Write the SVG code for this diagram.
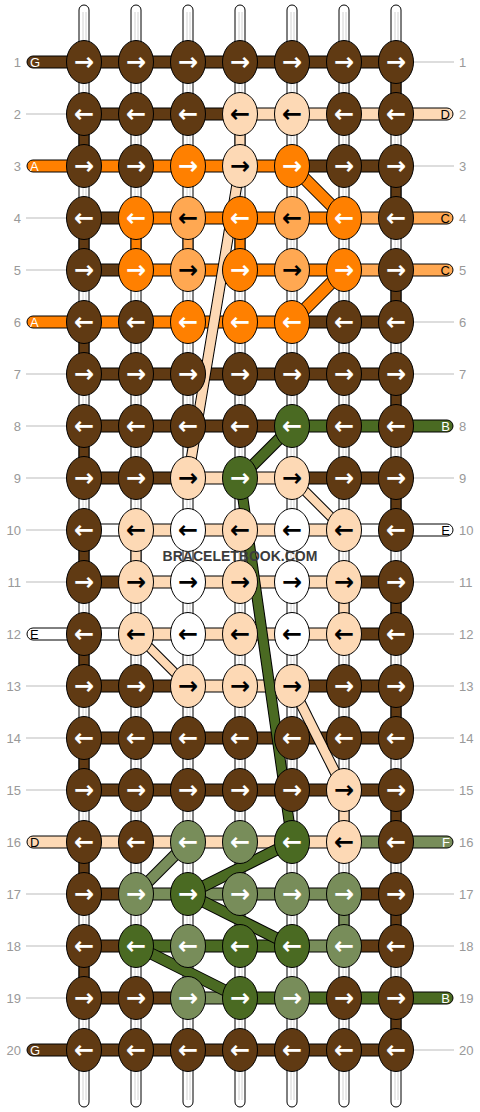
<svg xmlns="http://www.w3.org/2000/svg" width="480" height="1112" viewBox="0 0 480 1112">
<style>
.wp{fill:#fff;stroke:#000;stroke-width:1}
.wl{stroke:#d2d2d2;stroke-width:1}
.G{fill:#603a13}.A{fill:#ff8000}.C{fill:#ffa852}.D{fill:#fdd9b5}.E{fill:#fff}.F{fill:#788d5a}.B{fill:#4a6a22}
ellipse,.bar,.stub,.lab{stroke:#000;stroke-width:1}
.gl{stroke:#bbb;stroke-width:1}
.num{font-family:"Liberation Sans",Arial,sans-serif;font-size:13px;fill:#999}
.ln{text-anchor:end}
.ar{font-family:"DejaVu Sans",sans-serif;font-size:24px;font-weight:bold;text-anchor:middle}
.tw{fill:#fff}.tb{fill:#000}
.lt{font-family:"Liberation Sans",Arial,sans-serif;font-size:13px}
.lo{stroke:#000;stroke-linecap:butt}
.sD{stroke:#fdd9b5}.sA{stroke:#ff8000}.sB{stroke:#4a6a22}.sF{stroke:#788d5a}
.wm{font-family:"Liberation Sans",Arial,sans-serif;font-size:14px;font-weight:bold;fill:#3b3b3b;text-anchor:middle}
</style>
<g id="warps">
<rect class="wp" x="79" y="5" width="10" height="1102" rx="5"/><line class="wl" x1="83" y1="12" x2="83" y2="1100"/><line class="wl" x1="86" y1="12" x2="86" y2="1100"/>
<rect class="wp" x="131" y="5" width="10" height="1102" rx="5"/><line class="wl" x1="135" y1="12" x2="135" y2="1100"/><line class="wl" x1="138" y1="12" x2="138" y2="1100"/>
<rect class="wp" x="183" y="5" width="10" height="1102" rx="5"/><line class="wl" x1="187" y1="12" x2="187" y2="1100"/><line class="wl" x1="190" y1="12" x2="190" y2="1100"/>
<rect class="wp" x="235" y="5" width="10" height="1102" rx="5"/><line class="wl" x1="239" y1="12" x2="239" y2="1100"/><line class="wl" x1="242" y1="12" x2="242" y2="1100"/>
<rect class="wp" x="287" y="5" width="10" height="1102" rx="5"/><line class="wl" x1="291" y1="12" x2="291" y2="1100"/><line class="wl" x1="294" y1="12" x2="294" y2="1100"/>
<rect class="wp" x="339" y="5" width="10" height="1102" rx="5"/><line class="wl" x1="343" y1="12" x2="343" y2="1100"/><line class="wl" x1="346" y1="12" x2="346" y2="1100"/>
<rect class="wp" x="391" y="5" width="10" height="1102" rx="5"/><line class="wl" x1="395" y1="12" x2="395" y2="1100"/><line class="wl" x1="398" y1="12" x2="398" y2="1100"/>
</g>
<g id="numbers">
<text class="num ln" x="21" y="66.5">1</text><text class="num" x="459" y="66.5">1</text>
<text class="num ln" x="21" y="118.5">2</text><text class="num" x="459" y="118.5">2</text>
<text class="num ln" x="21" y="170.5">3</text><text class="num" x="459" y="170.5">3</text>
<text class="num ln" x="21" y="222.5">4</text><text class="num" x="459" y="222.5">4</text>
<text class="num ln" x="21" y="274.5">5</text><text class="num" x="459" y="274.5">5</text>
<text class="num ln" x="21" y="326.5">6</text><text class="num" x="459" y="326.5">6</text>
<text class="num ln" x="21" y="378.5">7</text><text class="num" x="459" y="378.5">7</text>
<text class="num ln" x="21" y="430.5">8</text><text class="num" x="459" y="430.5">8</text>
<text class="num ln" x="21" y="482.5">9</text><text class="num" x="459" y="482.5">9</text>
<text class="num ln" x="21" y="534.5">10</text><text class="num" x="459" y="534.5">10</text>
<text class="num ln" x="21" y="586.5">11</text><text class="num" x="459" y="586.5">11</text>
<text class="num ln" x="21" y="638.5">12</text><text class="num" x="459" y="638.5">12</text>
<text class="num ln" x="21" y="690.5">13</text><text class="num" x="459" y="690.5">13</text>
<text class="num ln" x="21" y="742.5">14</text><text class="num" x="459" y="742.5">14</text>
<text class="num ln" x="21" y="794.5">15</text><text class="num" x="459" y="794.5">15</text>
<text class="num ln" x="21" y="846.5">16</text><text class="num" x="459" y="846.5">16</text>
<text class="num ln" x="21" y="898.5">17</text><text class="num" x="459" y="898.5">17</text>
<text class="num ln" x="21" y="950.5">18</text><text class="num" x="459" y="950.5">18</text>
<text class="num ln" x="21" y="1002.5">19</text><text class="num" x="459" y="1002.5">19</text>
<text class="num ln" x="21" y="1054.5">20</text><text class="num" x="459" y="1054.5">20</text>
</g>
<g id="connectors">
<g id="edges">
<rect class="lab G" x="27" y="56" width="50" height="12" rx="6"/><line class="gl" x1="413" y1="62" x2="454" y2="62"/>
<line class="gl" x1="26" y1="114" x2="67" y2="114"/><rect class="lab D" x="403" y="108" width="50" height="12" rx="6"/>
<rect class="lab A" x="27" y="160" width="50" height="12" rx="6"/><line class="gl" x1="413" y1="166" x2="454" y2="166"/>
<line class="gl" x1="26" y1="218" x2="67" y2="218"/><rect class="lab C" x="403" y="212" width="50" height="12" rx="6"/>
<line class="gl" x1="26" y1="270" x2="67" y2="270"/><rect class="lab C" x="403" y="264" width="50" height="12" rx="6"/>
<rect class="lab A" x="27" y="316" width="50" height="12" rx="6"/><line class="gl" x1="413" y1="322" x2="454" y2="322"/>
<line class="gl" x1="26" y1="374" x2="67" y2="374"/><line class="gl" x1="413" y1="374" x2="454" y2="374"/>
<line class="gl" x1="26" y1="426" x2="67" y2="426"/><rect class="lab B" x="403" y="420" width="50" height="12" rx="6"/>
<line class="gl" x1="26" y1="478" x2="67" y2="478"/><line class="gl" x1="413" y1="478" x2="454" y2="478"/>
<line class="gl" x1="26" y1="530" x2="67" y2="530"/><rect class="lab E" x="403" y="524" width="50" height="12" rx="6"/>
<line class="gl" x1="26" y1="582" x2="67" y2="582"/><line class="gl" x1="413" y1="582" x2="454" y2="582"/>
<rect class="lab E" x="27" y="628" width="50" height="12" rx="6"/><line class="gl" x1="413" y1="634" x2="454" y2="634"/>
<line class="gl" x1="26" y1="686" x2="67" y2="686"/><line class="gl" x1="413" y1="686" x2="454" y2="686"/>
<line class="gl" x1="26" y1="738" x2="67" y2="738"/><line class="gl" x1="413" y1="738" x2="454" y2="738"/>
<line class="gl" x1="26" y1="790" x2="67" y2="790"/><line class="gl" x1="413" y1="790" x2="454" y2="790"/>
<rect class="lab D" x="27" y="836" width="50" height="12" rx="6"/><rect class="lab F" x="403" y="836" width="50" height="12" rx="6"/>
<line class="gl" x1="26" y1="894" x2="67" y2="894"/><line class="gl" x1="413" y1="894" x2="454" y2="894"/>
<line class="gl" x1="26" y1="946" x2="67" y2="946"/><line class="gl" x1="413" y1="946" x2="454" y2="946"/>
<line class="gl" x1="26" y1="998" x2="67" y2="998"/><rect class="lab B" x="403" y="992" width="50" height="12" rx="6"/>
<rect class="lab G" x="27" y="1044" width="50" height="12" rx="6"/><line class="gl" x1="413" y1="1050" x2="454" y2="1050"/>
</g>
<g id="stubs">
<rect class="stub G" x="391" y="79" width="10" height="18"/>
<rect class="stub G" x="79" y="131" width="10" height="18"/><rect class="stub D" x="235" y="131" width="10" height="18"/>
<rect class="stub G" x="391" y="183" width="10" height="18"/>
<rect class="stub G" x="79" y="235" width="10" height="18"/><rect class="stub A" x="131" y="235" width="10" height="18"/><rect class="stub C" x="183" y="235" width="10" height="18"/><rect class="stub A" x="235" y="235" width="10" height="18"/>
<rect class="stub G" x="391" y="287" width="10" height="18"/>
<rect class="stub G" x="79" y="339" width="10" height="18"/>
<rect class="stub G" x="391" y="391" width="10" height="18"/>
<rect class="stub G" x="79" y="443" width="10" height="18"/>
<rect class="stub G" x="391" y="495" width="10" height="18"/>
<rect class="stub G" x="79" y="547" width="10" height="18"/><rect class="stub D" x="131" y="547" width="10" height="18"/>
<rect class="stub G" x="391" y="599" width="10" height="18"/><rect class="stub D" x="339" y="599" width="10" height="18"/>
<rect class="stub G" x="79" y="651" width="10" height="18"/>
<rect class="stub G" x="391" y="703" width="10" height="18"/>
<rect class="stub G" x="79" y="755" width="10" height="18"/>
<rect class="stub G" x="391" y="807" width="10" height="18"/><rect class="stub D" x="339" y="807" width="10" height="18"/>
<rect class="stub G" x="79" y="859" width="10" height="18"/>
<rect class="stub G" x="391" y="911" width="10" height="18"/><rect class="stub F" x="339" y="911" width="10" height="18"/>
<rect class="stub G" x="79" y="963" width="10" height="18"/>
<rect class="stub G" x="391" y="1015" width="10" height="18"/>
</g>
<g id="bars">
<rect class="bar G" x="96" y="56" width="28" height="12"/><rect class="bar G" x="148" y="56" width="28" height="12"/><rect class="bar G" x="200" y="56" width="28" height="12"/><rect class="bar G" x="252" y="56" width="28" height="12"/><rect class="bar G" x="304" y="56" width="28" height="12"/><rect class="bar G" x="356" y="56" width="28" height="12"/>
<rect class="bar G" x="96" y="108" width="28" height="12"/><rect class="bar G" x="148" y="108" width="28" height="12"/><rect class="bar G" x="200" y="108" width="28" height="12"/><rect class="bar D" x="252" y="108" width="28" height="12"/><rect class="bar D" x="304" y="108" width="28" height="12"/><rect class="bar D" x="356" y="108" width="28" height="12"/>
<rect class="bar A" x="96" y="160" width="28" height="12"/><rect class="bar A" x="148" y="160" width="28" height="12"/><rect class="bar A" x="200" y="160" width="28" height="12"/><rect class="bar A" x="252" y="160" width="28" height="12"/><rect class="bar G" x="304" y="160" width="28" height="12"/><rect class="bar G" x="356" y="160" width="28" height="12"/>
<rect class="bar G" x="96" y="212" width="28" height="12"/><rect class="bar A" x="148" y="212" width="28" height="12"/><rect class="bar A" x="200" y="212" width="28" height="12"/><rect class="bar A" x="252" y="212" width="28" height="12"/><rect class="bar A" x="304" y="212" width="28" height="12"/><rect class="bar C" x="356" y="212" width="28" height="12"/>
<rect class="bar G" x="96" y="264" width="28" height="12"/><rect class="bar A" x="148" y="264" width="28" height="12"/><rect class="bar A" x="200" y="264" width="28" height="12"/><rect class="bar A" x="252" y="264" width="28" height="12"/><rect class="bar A" x="304" y="264" width="28" height="12"/><rect class="bar C" x="356" y="264" width="28" height="12"/>
<rect class="bar A" x="96" y="316" width="28" height="12"/><rect class="bar A" x="148" y="316" width="28" height="12"/><rect class="bar A" x="200" y="316" width="28" height="12"/><rect class="bar A" x="252" y="316" width="28" height="12"/><rect class="bar G" x="304" y="316" width="28" height="12"/><rect class="bar G" x="356" y="316" width="28" height="12"/>
<rect class="bar G" x="96" y="368" width="28" height="12"/><rect class="bar G" x="148" y="368" width="28" height="12"/><rect class="bar G" x="200" y="368" width="28" height="12"/><rect class="bar G" x="252" y="368" width="28" height="12"/><rect class="bar G" x="304" y="368" width="28" height="12"/><rect class="bar G" x="356" y="368" width="28" height="12"/>
<rect class="bar G" x="96" y="420" width="28" height="12"/><rect class="bar G" x="148" y="420" width="28" height="12"/><rect class="bar G" x="200" y="420" width="28" height="12"/><rect class="bar G" x="252" y="420" width="28" height="12"/><rect class="bar B" x="304" y="420" width="28" height="12"/><rect class="bar B" x="356" y="420" width="28" height="12"/>
<rect class="bar G" x="96" y="472" width="28" height="12"/><rect class="bar G" x="148" y="472" width="28" height="12"/><rect class="bar D" x="200" y="472" width="28" height="12"/><rect class="bar D" x="252" y="472" width="28" height="12"/><rect class="bar G" x="304" y="472" width="28" height="12"/><rect class="bar G" x="356" y="472" width="28" height="12"/>
<rect class="bar E" x="96" y="524" width="28" height="12"/><rect class="bar D" x="148" y="524" width="28" height="12"/><rect class="bar D" x="200" y="524" width="28" height="12"/><rect class="bar D" x="252" y="524" width="28" height="12"/><rect class="bar D" x="304" y="524" width="28" height="12"/><rect class="bar E" x="356" y="524" width="28" height="12"/>
<rect class="bar G" x="96" y="576" width="28" height="12"/><rect class="bar D" x="148" y="576" width="28" height="12"/><rect class="bar D" x="200" y="576" width="28" height="12"/><rect class="bar D" x="252" y="576" width="28" height="12"/><rect class="bar D" x="304" y="576" width="28" height="12"/><rect class="bar G" x="356" y="576" width="28" height="12"/>
<rect class="bar E" x="96" y="628" width="28" height="12"/><rect class="bar D" x="148" y="628" width="28" height="12"/><rect class="bar D" x="200" y="628" width="28" height="12"/><rect class="bar D" x="252" y="628" width="28" height="12"/><rect class="bar D" x="304" y="628" width="28" height="12"/><rect class="bar G" x="356" y="628" width="28" height="12"/>
<rect class="bar G" x="96" y="680" width="28" height="12"/><rect class="bar G" x="148" y="680" width="28" height="12"/><rect class="bar D" x="200" y="680" width="28" height="12"/><rect class="bar D" x="252" y="680" width="28" height="12"/><rect class="bar G" x="304" y="680" width="28" height="12"/><rect class="bar G" x="356" y="680" width="28" height="12"/>
<rect class="bar G" x="96" y="732" width="28" height="12"/><rect class="bar G" x="148" y="732" width="28" height="12"/><rect class="bar G" x="200" y="732" width="28" height="12"/><rect class="bar G" x="252" y="732" width="28" height="12"/><rect class="bar G" x="304" y="732" width="28" height="12"/><rect class="bar G" x="356" y="732" width="28" height="12"/>
<rect class="bar G" x="96" y="784" width="28" height="12"/><rect class="bar G" x="148" y="784" width="28" height="12"/><rect class="bar G" x="200" y="784" width="28" height="12"/><rect class="bar G" x="252" y="784" width="28" height="12"/><rect class="bar G" x="304" y="784" width="28" height="12"/><rect class="bar G" x="356" y="784" width="28" height="12"/>
<rect class="bar D" x="96" y="836" width="28" height="12"/><rect class="bar D" x="148" y="836" width="28" height="12"/><rect class="bar D" x="200" y="836" width="28" height="12"/><rect class="bar D" x="252" y="836" width="28" height="12"/><rect class="bar D" x="304" y="836" width="28" height="12"/><rect class="bar F" x="356" y="836" width="28" height="12"/>
<rect class="bar G" x="96" y="888" width="28" height="12"/><rect class="bar F" x="148" y="888" width="28" height="12"/><rect class="bar F" x="200" y="888" width="28" height="12"/><rect class="bar F" x="252" y="888" width="28" height="12"/><rect class="bar F" x="304" y="888" width="28" height="12"/><rect class="bar G" x="356" y="888" width="28" height="12"/>
<rect class="bar G" x="96" y="940" width="28" height="12"/><rect class="bar B" x="148" y="940" width="28" height="12"/><rect class="bar B" x="200" y="940" width="28" height="12"/><rect class="bar B" x="252" y="940" width="28" height="12"/><rect class="bar F" x="304" y="940" width="28" height="12"/><rect class="bar G" x="356" y="940" width="28" height="12"/>
<rect class="bar G" x="96" y="992" width="28" height="12"/><rect class="bar G" x="148" y="992" width="28" height="12"/><rect class="bar F" x="200" y="992" width="28" height="12"/><rect class="bar B" x="252" y="992" width="28" height="12"/><rect class="bar B" x="304" y="992" width="28" height="12"/><rect class="bar B" x="356" y="992" width="28" height="12"/>
<rect class="bar G" x="96" y="1044" width="28" height="12"/><rect class="bar G" x="148" y="1044" width="28" height="12"/><rect class="bar G" x="200" y="1044" width="28" height="12"/><rect class="bar G" x="252" y="1044" width="28" height="12"/><rect class="bar G" x="304" y="1044" width="28" height="12"/><rect class="bar G" x="356" y="1044" width="28" height="12"/>
</g>
<g id="diagonals">
<line class="lo" x1="240" y1="166" x2="188" y2="478" stroke-width="11"/><line class="sD" x1="240" y1="166" x2="188" y2="478" stroke-width="9"/>
<line class="lo" x1="292" y1="166" x2="344" y2="218" stroke-width="13"/><line class="sA" x1="292" y1="166" x2="344" y2="218" stroke-width="11"/>
<line class="lo" x1="344" y1="270" x2="292" y2="322" stroke-width="13"/><line class="sA" x1="344" y1="270" x2="292" y2="322" stroke-width="11"/>
<line class="lo" x1="292" y1="426" x2="240" y2="478" stroke-width="12"/><line class="sB" x1="292" y1="426" x2="240" y2="478" stroke-width="10"/>
<line class="lo" x1="240" y1="478" x2="292" y2="842" stroke-width="11"/><line class="sB" x1="240" y1="478" x2="292" y2="842" stroke-width="9"/>
<line class="lo" x1="292" y1="478" x2="344" y2="530" stroke-width="10"/><line class="sD" x1="292" y1="478" x2="344" y2="530" stroke-width="8"/>
<line class="lo" x1="136" y1="634" x2="188" y2="686" stroke-width="10"/><line class="sD" x1="136" y1="634" x2="188" y2="686" stroke-width="8"/>
<line class="lo" x1="292" y1="686" x2="344" y2="790" stroke-width="11"/><line class="sD" x1="292" y1="686" x2="344" y2="790" stroke-width="9"/>
<line class="lo" x1="188" y1="842" x2="136" y2="894" stroke-width="12"/><line class="sF" x1="188" y1="842" x2="136" y2="894" stroke-width="10"/>
<line class="lo" x1="292" y1="842" x2="188" y2="894" stroke-width="12"/><line class="sB" x1="292" y1="842" x2="188" y2="894" stroke-width="10"/>
<line class="lo" x1="188" y1="894" x2="292" y2="946" stroke-width="12"/><line class="sB" x1="188" y1="894" x2="292" y2="946" stroke-width="10"/>
<line class="lo" x1="136" y1="946" x2="240" y2="998" stroke-width="12"/><line class="sB" x1="136" y1="946" x2="240" y2="998" stroke-width="10"/>
</g>
</g>
<g id="labels">
<text class="lt tw" x="30" y="66.5">G</text><text class="lt tb" x="450" y="118.5" text-anchor="end">D</text><text class="lt tw" x="30" y="170.5">A</text><text class="lt tb" x="450" y="222.5" text-anchor="end">C</text><text class="lt tb" x="450" y="274.5" text-anchor="end">C</text><text class="lt tw" x="30" y="326.5">A</text><text class="lt tw" x="450" y="430.5" text-anchor="end">B</text><text class="lt tb" x="450" y="534.5" text-anchor="end">E</text><text class="lt tb" x="30" y="638.5">E</text><text class="lt tb" x="30" y="846.5">D</text><text class="lt tw" x="450" y="846.5" text-anchor="end">F</text><text class="lt tw" x="450" y="1002.5" text-anchor="end">B</text><text class="lt tw" x="30" y="1054.5">G</text>
</g>
<g id="knots">
<g id="r1"><g id="k1-1"><ellipse class="G" cx="84" cy="62" rx="17.5" ry="21.5"/><text class="ar tw" x="84" y="70">→</text></g><g id="k1-2"><ellipse class="G" cx="136" cy="62" rx="17.5" ry="21.5"/><text class="ar tw" x="136" y="70">→</text></g><g id="k1-3"><ellipse class="G" cx="188" cy="62" rx="17.5" ry="21.5"/><text class="ar tw" x="188" y="70">→</text></g><g id="k1-4"><ellipse class="G" cx="240" cy="62" rx="17.5" ry="21.5"/><text class="ar tw" x="240" y="70">→</text></g><g id="k1-5"><ellipse class="G" cx="292" cy="62" rx="17.5" ry="21.5"/><text class="ar tw" x="292" y="70">→</text></g><g id="k1-6"><ellipse class="G" cx="344" cy="62" rx="17.5" ry="21.5"/><text class="ar tw" x="344" y="70">→</text></g><g id="k1-7"><ellipse class="G" cx="396" cy="62" rx="17.5" ry="21.5"/><text class="ar tw" x="396" y="70">→</text></g></g>
<g id="r2"><g id="k2-1"><ellipse class="G" cx="84" cy="114" rx="17.5" ry="21.5"/><text class="ar tw" x="84" y="122">←</text></g><g id="k2-2"><ellipse class="G" cx="136" cy="114" rx="17.5" ry="21.5"/><text class="ar tw" x="136" y="122">←</text></g><g id="k2-3"><ellipse class="G" cx="188" cy="114" rx="17.5" ry="21.5"/><text class="ar tw" x="188" y="122">←</text></g><g id="k2-4"><ellipse class="D" cx="240" cy="114" rx="17.5" ry="21.5"/><text class="ar tb" x="240" y="122">←</text></g><g id="k2-5"><ellipse class="D" cx="292" cy="114" rx="17.5" ry="21.5"/><text class="ar tb" x="292" y="122">←</text></g><g id="k2-6"><ellipse class="G" cx="344" cy="114" rx="17.5" ry="21.5"/><text class="ar tw" x="344" y="122">←</text></g><g id="k2-7"><ellipse class="G" cx="396" cy="114" rx="17.5" ry="21.5"/><text class="ar tw" x="396" y="122">←</text></g></g>
<g id="r3"><g id="k3-1"><ellipse class="G" cx="84" cy="166" rx="17.5" ry="21.5"/><text class="ar tw" x="84" y="174">→</text></g><g id="k3-2"><ellipse class="G" cx="136" cy="166" rx="17.5" ry="21.5"/><text class="ar tw" x="136" y="174">→</text></g><g id="k3-3"><ellipse class="A" cx="188" cy="166" rx="17.5" ry="21.5"/><text class="ar tw" x="188" y="174">→</text></g><g id="k3-4"><ellipse class="D" cx="240" cy="166" rx="17.5" ry="21.5"/><text class="ar tb" x="240" y="174">→</text></g><g id="k3-5"><ellipse class="A" cx="292" cy="166" rx="17.5" ry="21.5"/><text class="ar tw" x="292" y="174">→</text></g><g id="k3-6"><ellipse class="G" cx="344" cy="166" rx="17.5" ry="21.5"/><text class="ar tw" x="344" y="174">→</text></g><g id="k3-7"><ellipse class="G" cx="396" cy="166" rx="17.5" ry="21.5"/><text class="ar tw" x="396" y="174">→</text></g></g>
<g id="r4"><g id="k4-1"><ellipse class="G" cx="84" cy="218" rx="17.5" ry="21.5"/><text class="ar tw" x="84" y="226">←</text></g><g id="k4-2"><ellipse class="A" cx="136" cy="218" rx="17.5" ry="21.5"/><text class="ar tw" x="136" y="226">←</text></g><g id="k4-3"><ellipse class="C" cx="188" cy="218" rx="17.5" ry="21.5"/><text class="ar tb" x="188" y="226">←</text></g><g id="k4-4"><ellipse class="A" cx="240" cy="218" rx="17.5" ry="21.5"/><text class="ar tw" x="240" y="226">←</text></g><g id="k4-5"><ellipse class="C" cx="292" cy="218" rx="17.5" ry="21.5"/><text class="ar tb" x="292" y="226">←</text></g><g id="k4-6"><ellipse class="A" cx="344" cy="218" rx="17.5" ry="21.5"/><text class="ar tw" x="344" y="226">←</text></g><g id="k4-7"><ellipse class="G" cx="396" cy="218" rx="17.5" ry="21.5"/><text class="ar tw" x="396" y="226">←</text></g></g>
<g id="r5"><g id="k5-1"><ellipse class="G" cx="84" cy="270" rx="17.5" ry="21.5"/><text class="ar tw" x="84" y="278">→</text></g><g id="k5-2"><ellipse class="A" cx="136" cy="270" rx="17.5" ry="21.5"/><text class="ar tw" x="136" y="278">→</text></g><g id="k5-3"><ellipse class="C" cx="188" cy="270" rx="17.5" ry="21.5"/><text class="ar tb" x="188" y="278">→</text></g><g id="k5-4"><ellipse class="A" cx="240" cy="270" rx="17.5" ry="21.5"/><text class="ar tw" x="240" y="278">→</text></g><g id="k5-5"><ellipse class="C" cx="292" cy="270" rx="17.5" ry="21.5"/><text class="ar tb" x="292" y="278">→</text></g><g id="k5-6"><ellipse class="A" cx="344" cy="270" rx="17.5" ry="21.5"/><text class="ar tw" x="344" y="278">→</text></g><g id="k5-7"><ellipse class="G" cx="396" cy="270" rx="17.5" ry="21.5"/><text class="ar tw" x="396" y="278">→</text></g></g>
<g id="r6"><g id="k6-1"><ellipse class="G" cx="84" cy="322" rx="17.5" ry="21.5"/><text class="ar tw" x="84" y="330">←</text></g><g id="k6-2"><ellipse class="G" cx="136" cy="322" rx="17.5" ry="21.5"/><text class="ar tw" x="136" y="330">←</text></g><g id="k6-3"><ellipse class="A" cx="188" cy="322" rx="17.5" ry="21.5"/><text class="ar tw" x="188" y="330">←</text></g><g id="k6-4"><ellipse class="A" cx="240" cy="322" rx="17.5" ry="21.5"/><text class="ar tw" x="240" y="330">←</text></g><g id="k6-5"><ellipse class="A" cx="292" cy="322" rx="17.5" ry="21.5"/><text class="ar tw" x="292" y="330">←</text></g><g id="k6-6"><ellipse class="G" cx="344" cy="322" rx="17.5" ry="21.5"/><text class="ar tw" x="344" y="330">←</text></g><g id="k6-7"><ellipse class="G" cx="396" cy="322" rx="17.5" ry="21.5"/><text class="ar tw" x="396" y="330">←</text></g></g>
<g id="r7"><g id="k7-1"><ellipse class="G" cx="84" cy="374" rx="17.5" ry="21.5"/><text class="ar tw" x="84" y="382">→</text></g><g id="k7-2"><ellipse class="G" cx="136" cy="374" rx="17.5" ry="21.5"/><text class="ar tw" x="136" y="382">→</text></g><g id="k7-3"><ellipse class="G" cx="188" cy="374" rx="17.5" ry="21.5"/><text class="ar tw" x="188" y="382">→</text></g><g id="k7-4"><ellipse class="G" cx="240" cy="374" rx="17.5" ry="21.5"/><text class="ar tw" x="240" y="382">→</text></g><g id="k7-5"><ellipse class="G" cx="292" cy="374" rx="17.5" ry="21.5"/><text class="ar tw" x="292" y="382">→</text></g><g id="k7-6"><ellipse class="G" cx="344" cy="374" rx="17.5" ry="21.5"/><text class="ar tw" x="344" y="382">→</text></g><g id="k7-7"><ellipse class="G" cx="396" cy="374" rx="17.5" ry="21.5"/><text class="ar tw" x="396" y="382">→</text></g></g>
<g id="r8"><g id="k8-1"><ellipse class="G" cx="84" cy="426" rx="17.5" ry="21.5"/><text class="ar tw" x="84" y="434">←</text></g><g id="k8-2"><ellipse class="G" cx="136" cy="426" rx="17.5" ry="21.5"/><text class="ar tw" x="136" y="434">←</text></g><g id="k8-3"><ellipse class="G" cx="188" cy="426" rx="17.5" ry="21.5"/><text class="ar tw" x="188" y="434">←</text></g><g id="k8-4"><ellipse class="G" cx="240" cy="426" rx="17.5" ry="21.5"/><text class="ar tw" x="240" y="434">←</text></g><g id="k8-5"><ellipse class="B" cx="292" cy="426" rx="17.5" ry="21.5"/><text class="ar tw" x="292" y="434">←</text></g><g id="k8-6"><ellipse class="G" cx="344" cy="426" rx="17.5" ry="21.5"/><text class="ar tw" x="344" y="434">←</text></g><g id="k8-7"><ellipse class="G" cx="396" cy="426" rx="17.5" ry="21.5"/><text class="ar tw" x="396" y="434">←</text></g></g>
<g id="r9"><g id="k9-1"><ellipse class="G" cx="84" cy="478" rx="17.5" ry="21.5"/><text class="ar tw" x="84" y="486">→</text></g><g id="k9-2"><ellipse class="G" cx="136" cy="478" rx="17.5" ry="21.5"/><text class="ar tw" x="136" y="486">→</text></g><g id="k9-3"><ellipse class="D" cx="188" cy="478" rx="17.5" ry="21.5"/><text class="ar tb" x="188" y="486">→</text></g><g id="k9-4"><ellipse class="B" cx="240" cy="478" rx="17.5" ry="21.5"/><text class="ar tw" x="240" y="486">→</text></g><g id="k9-5"><ellipse class="D" cx="292" cy="478" rx="17.5" ry="21.5"/><text class="ar tb" x="292" y="486">→</text></g><g id="k9-6"><ellipse class="G" cx="344" cy="478" rx="17.5" ry="21.5"/><text class="ar tw" x="344" y="486">→</text></g><g id="k9-7"><ellipse class="G" cx="396" cy="478" rx="17.5" ry="21.5"/><text class="ar tw" x="396" y="486">→</text></g></g>
<g id="r10"><g id="k10-1"><ellipse class="G" cx="84" cy="530" rx="17.5" ry="21.5"/><text class="ar tw" x="84" y="538">←</text></g><g id="k10-2"><ellipse class="D" cx="136" cy="530" rx="17.5" ry="21.5"/><text class="ar tb" x="136" y="538">←</text></g><g id="k10-3"><ellipse class="E" cx="188" cy="530" rx="17.5" ry="21.5"/><text class="ar tb" x="188" y="538">←</text></g><g id="k10-4"><ellipse class="D" cx="240" cy="530" rx="17.5" ry="21.5"/><text class="ar tb" x="240" y="538">←</text></g><g id="k10-5"><ellipse class="E" cx="292" cy="530" rx="17.5" ry="21.5"/><text class="ar tb" x="292" y="538">←</text></g><g id="k10-6"><ellipse class="D" cx="344" cy="530" rx="17.5" ry="21.5"/><text class="ar tb" x="344" y="538">←</text></g><g id="k10-7"><ellipse class="G" cx="396" cy="530" rx="17.5" ry="21.5"/><text class="ar tw" x="396" y="538">←</text></g></g>
<g id="r11"><g id="k11-1"><ellipse class="G" cx="84" cy="582" rx="17.5" ry="21.5"/><text class="ar tw" x="84" y="590">→</text></g><g id="k11-2"><ellipse class="D" cx="136" cy="582" rx="17.5" ry="21.5"/><text class="ar tb" x="136" y="590">→</text></g><g id="k11-3"><ellipse class="E" cx="188" cy="582" rx="17.5" ry="21.5"/><text class="ar tb" x="188" y="590">→</text></g><g id="k11-4"><ellipse class="D" cx="240" cy="582" rx="17.5" ry="21.5"/><text class="ar tb" x="240" y="590">→</text></g><g id="k11-5"><ellipse class="E" cx="292" cy="582" rx="17.5" ry="21.5"/><text class="ar tb" x="292" y="590">→</text></g><g id="k11-6"><ellipse class="D" cx="344" cy="582" rx="17.5" ry="21.5"/><text class="ar tb" x="344" y="590">→</text></g><g id="k11-7"><ellipse class="G" cx="396" cy="582" rx="17.5" ry="21.5"/><text class="ar tw" x="396" y="590">→</text></g></g>
<g id="r12"><g id="k12-1"><ellipse class="G" cx="84" cy="634" rx="17.5" ry="21.5"/><text class="ar tw" x="84" y="642">←</text></g><g id="k12-2"><ellipse class="D" cx="136" cy="634" rx="17.5" ry="21.5"/><text class="ar tb" x="136" y="642">←</text></g><g id="k12-3"><ellipse class="E" cx="188" cy="634" rx="17.5" ry="21.5"/><text class="ar tb" x="188" y="642">←</text></g><g id="k12-4"><ellipse class="D" cx="240" cy="634" rx="17.5" ry="21.5"/><text class="ar tb" x="240" y="642">←</text></g><g id="k12-5"><ellipse class="E" cx="292" cy="634" rx="17.5" ry="21.5"/><text class="ar tb" x="292" y="642">←</text></g><g id="k12-6"><ellipse class="D" cx="344" cy="634" rx="17.5" ry="21.5"/><text class="ar tb" x="344" y="642">←</text></g><g id="k12-7"><ellipse class="G" cx="396" cy="634" rx="17.5" ry="21.5"/><text class="ar tw" x="396" y="642">←</text></g></g>
<g id="r13"><g id="k13-1"><ellipse class="G" cx="84" cy="686" rx="17.5" ry="21.5"/><text class="ar tw" x="84" y="694">→</text></g><g id="k13-2"><ellipse class="G" cx="136" cy="686" rx="17.5" ry="21.5"/><text class="ar tw" x="136" y="694">→</text></g><g id="k13-3"><ellipse class="D" cx="188" cy="686" rx="17.5" ry="21.5"/><text class="ar tb" x="188" y="694">→</text></g><g id="k13-4"><ellipse class="D" cx="240" cy="686" rx="17.5" ry="21.5"/><text class="ar tb" x="240" y="694">→</text></g><g id="k13-5"><ellipse class="D" cx="292" cy="686" rx="17.5" ry="21.5"/><text class="ar tb" x="292" y="694">→</text></g><g id="k13-6"><ellipse class="G" cx="344" cy="686" rx="17.5" ry="21.5"/><text class="ar tw" x="344" y="694">→</text></g><g id="k13-7"><ellipse class="G" cx="396" cy="686" rx="17.5" ry="21.5"/><text class="ar tw" x="396" y="694">→</text></g></g>
<g id="r14"><g id="k14-1"><ellipse class="G" cx="84" cy="738" rx="17.5" ry="21.5"/><text class="ar tw" x="84" y="746">←</text></g><g id="k14-2"><ellipse class="G" cx="136" cy="738" rx="17.5" ry="21.5"/><text class="ar tw" x="136" y="746">←</text></g><g id="k14-3"><ellipse class="G" cx="188" cy="738" rx="17.5" ry="21.5"/><text class="ar tw" x="188" y="746">←</text></g><g id="k14-4"><ellipse class="G" cx="240" cy="738" rx="17.5" ry="21.5"/><text class="ar tw" x="240" y="746">←</text></g><g id="k14-5"><ellipse class="G" cx="292" cy="738" rx="17.5" ry="21.5"/><text class="ar tw" x="292" y="746">←</text></g><g id="k14-6"><ellipse class="G" cx="344" cy="738" rx="17.5" ry="21.5"/><text class="ar tw" x="344" y="746">←</text></g><g id="k14-7"><ellipse class="G" cx="396" cy="738" rx="17.5" ry="21.5"/><text class="ar tw" x="396" y="746">←</text></g></g>
<g id="r15"><g id="k15-1"><ellipse class="G" cx="84" cy="790" rx="17.5" ry="21.5"/><text class="ar tw" x="84" y="798">→</text></g><g id="k15-2"><ellipse class="G" cx="136" cy="790" rx="17.5" ry="21.5"/><text class="ar tw" x="136" y="798">→</text></g><g id="k15-3"><ellipse class="G" cx="188" cy="790" rx="17.5" ry="21.5"/><text class="ar tw" x="188" y="798">→</text></g><g id="k15-4"><ellipse class="G" cx="240" cy="790" rx="17.5" ry="21.5"/><text class="ar tw" x="240" y="798">→</text></g><g id="k15-5"><ellipse class="G" cx="292" cy="790" rx="17.5" ry="21.5"/><text class="ar tw" x="292" y="798">→</text></g><g id="k15-6"><ellipse class="D" cx="344" cy="790" rx="17.5" ry="21.5"/><text class="ar tb" x="344" y="798">→</text></g><g id="k15-7"><ellipse class="G" cx="396" cy="790" rx="17.5" ry="21.5"/><text class="ar tw" x="396" y="798">→</text></g></g>
<g id="r16"><g id="k16-1"><ellipse class="G" cx="84" cy="842" rx="17.5" ry="21.5"/><text class="ar tw" x="84" y="850">←</text></g><g id="k16-2"><ellipse class="G" cx="136" cy="842" rx="17.5" ry="21.5"/><text class="ar tw" x="136" y="850">←</text></g><g id="k16-3"><ellipse class="F" cx="188" cy="842" rx="17.5" ry="21.5"/><text class="ar tw" x="188" y="850">←</text></g><g id="k16-4"><ellipse class="F" cx="240" cy="842" rx="17.5" ry="21.5"/><text class="ar tw" x="240" y="850">←</text></g><g id="k16-5"><ellipse class="B" cx="292" cy="842" rx="17.5" ry="21.5"/><text class="ar tw" x="292" y="850">←</text></g><g id="k16-6"><ellipse class="D" cx="344" cy="842" rx="17.5" ry="21.5"/><text class="ar tb" x="344" y="850">←</text></g><g id="k16-7"><ellipse class="G" cx="396" cy="842" rx="17.5" ry="21.5"/><text class="ar tw" x="396" y="850">←</text></g></g>
<g id="r17"><g id="k17-1"><ellipse class="G" cx="84" cy="894" rx="17.5" ry="21.5"/><text class="ar tw" x="84" y="902">→</text></g><g id="k17-2"><ellipse class="F" cx="136" cy="894" rx="17.5" ry="21.5"/><text class="ar tw" x="136" y="902">→</text></g><g id="k17-3"><ellipse class="B" cx="188" cy="894" rx="17.5" ry="21.5"/><text class="ar tw" x="188" y="902">→</text></g><g id="k17-4"><ellipse class="F" cx="240" cy="894" rx="17.5" ry="21.5"/><text class="ar tw" x="240" y="902">→</text></g><g id="k17-5"><ellipse class="F" cx="292" cy="894" rx="17.5" ry="21.5"/><text class="ar tw" x="292" y="902">→</text></g><g id="k17-6"><ellipse class="F" cx="344" cy="894" rx="17.5" ry="21.5"/><text class="ar tw" x="344" y="902">→</text></g><g id="k17-7"><ellipse class="G" cx="396" cy="894" rx="17.5" ry="21.5"/><text class="ar tw" x="396" y="902">→</text></g></g>
<g id="r18"><g id="k18-1"><ellipse class="G" cx="84" cy="946" rx="17.5" ry="21.5"/><text class="ar tw" x="84" y="954">←</text></g><g id="k18-2"><ellipse class="B" cx="136" cy="946" rx="17.5" ry="21.5"/><text class="ar tw" x="136" y="954">←</text></g><g id="k18-3"><ellipse class="F" cx="188" cy="946" rx="17.5" ry="21.5"/><text class="ar tw" x="188" y="954">←</text></g><g id="k18-4"><ellipse class="B" cx="240" cy="946" rx="17.5" ry="21.5"/><text class="ar tw" x="240" y="954">←</text></g><g id="k18-5"><ellipse class="B" cx="292" cy="946" rx="17.5" ry="21.5"/><text class="ar tw" x="292" y="954">←</text></g><g id="k18-6"><ellipse class="F" cx="344" cy="946" rx="17.5" ry="21.5"/><text class="ar tw" x="344" y="954">←</text></g><g id="k18-7"><ellipse class="G" cx="396" cy="946" rx="17.5" ry="21.5"/><text class="ar tw" x="396" y="954">←</text></g></g>
<g id="r19"><g id="k19-1"><ellipse class="G" cx="84" cy="998" rx="17.5" ry="21.5"/><text class="ar tw" x="84" y="1006">→</text></g><g id="k19-2"><ellipse class="G" cx="136" cy="998" rx="17.5" ry="21.5"/><text class="ar tw" x="136" y="1006">→</text></g><g id="k19-3"><ellipse class="F" cx="188" cy="998" rx="17.5" ry="21.5"/><text class="ar tw" x="188" y="1006">→</text></g><g id="k19-4"><ellipse class="B" cx="240" cy="998" rx="17.5" ry="21.5"/><text class="ar tw" x="240" y="1006">→</text></g><g id="k19-5"><ellipse class="F" cx="292" cy="998" rx="17.5" ry="21.5"/><text class="ar tw" x="292" y="1006">→</text></g><g id="k19-6"><ellipse class="G" cx="344" cy="998" rx="17.5" ry="21.5"/><text class="ar tw" x="344" y="1006">→</text></g><g id="k19-7"><ellipse class="G" cx="396" cy="998" rx="17.5" ry="21.5"/><text class="ar tw" x="396" y="1006">→</text></g></g>
<g id="r20"><g id="k20-1"><ellipse class="G" cx="84" cy="1050" rx="17.5" ry="21.5"/><text class="ar tw" x="84" y="1058">←</text></g><g id="k20-2"><ellipse class="G" cx="136" cy="1050" rx="17.5" ry="21.5"/><text class="ar tw" x="136" y="1058">←</text></g><g id="k20-3"><ellipse class="G" cx="188" cy="1050" rx="17.5" ry="21.5"/><text class="ar tw" x="188" y="1058">←</text></g><g id="k20-4"><ellipse class="G" cx="240" cy="1050" rx="17.5" ry="21.5"/><text class="ar tw" x="240" y="1058">←</text></g><g id="k20-5"><ellipse class="G" cx="292" cy="1050" rx="17.5" ry="21.5"/><text class="ar tw" x="292" y="1058">←</text></g><g id="k20-6"><ellipse class="G" cx="344" cy="1050" rx="17.5" ry="21.5"/><text class="ar tw" x="344" y="1058">←</text></g><g id="k20-7"><ellipse class="G" cx="396" cy="1050" rx="17.5" ry="21.5"/><text class="ar tw" x="396" y="1058">←</text></g></g>
</g>
<text class="wm" x="240" y="561">BRACELETBOOK.COM</text>
</svg>
